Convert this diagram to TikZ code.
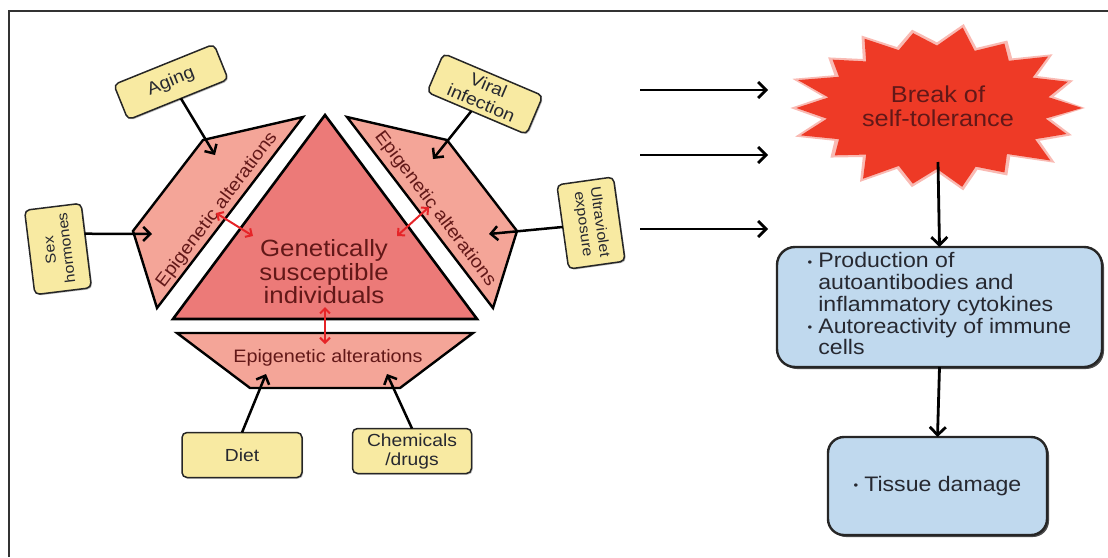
\documentclass[tikz,border=0pt]{standalone}
\usepackage{fontspec}
\setmainfont{Liberation Sans}[FakeStretch=1.1]
\usetikzlibrary{arrows.meta,calc,shadows}

\definecolor{tricol}{RGB}{236,122,120}
\definecolor{piececol}{RGB}{244,165,152}
\definecolor{notecol}{RGB}{248,234,162}
\definecolor{cellcol}{RGB}{192,217,238}
\definecolor{burstcol}{RGB}{238,58,38}
\definecolor{maroon}{RGB}{98,24,24}
\definecolor{ink}{RGB}{38,40,48}
\definecolor{linkred}{RGB}{230,36,40}

\newcommand\smalldot{\raisebox{1.5pt}{\fontsize{12}{12}\selectfont\textbullet}}

\begin{document}
\begin{tikzpicture}[x=1pt,y=-1pt,
  every node/.style={inner sep=0pt, outer sep=0pt},
  factor/.style={draw=black!85, line width=1.5pt, fill=notecol, rounded corners=5pt,
    align=center, text=ink, font=\fontsize{17.5}{19}\selectfont,
    drop shadow={shadow xshift=1.2pt, shadow yshift=-1.2pt, fill=black!25, opacity=1}},
  smallfactor/.style={factor, font=\fontsize{14.5}{16.5}\selectfont},
  piece/.style={draw=black, line width=2.4pt, fill=piececol, line join=miter},
  core/.style={draw=black, line width=2.6pt, fill=tricol, line join=miter},
  piecetext/.style={text=maroon, font=\fontsize{18}{20}\selectfont},
  cell/.style={draw=black!85, line width=2.4pt, fill=cellcol, text=ink,
    font=\fontsize{21}{21.8}\selectfont,
    drop shadow={shadow xshift=2pt, shadow yshift=-2pt, fill=black!70, opacity=1}},
  arr/.style={draw=black, line width=2.5pt, -{Straight Barb[length=7pt,width=14pt]}},
  bigarr/.style={draw=black, line width=2.8pt, -{Straight Barb[length=8pt,width=16pt]}},
  link/.style={draw=linkred, line width=2pt,
    {Straight Barb[length=5pt,width=10pt]}-{Straight Barb[length=5pt,width=10pt]}},
]
\useasboundingbox (0,0) rectangle (1108,557);

% frame lines
\draw[line width=1.8pt, black!80] (9,557) -- (9,11) -- (1108,11);

% central triangle and the three surrounding pieces
\draw[core] (325,115) -- (477,319) -- (173,319) -- cycle;
\draw[piece] (303,117) -- (203,140) -- (133,231) -- (157,308) -- cycle;
\draw[piece] (347,117) -- (447,140) -- (517,231) -- (493,308) -- cycle;
\draw[piece] (177,333) -- (473,333) -- (400,388) -- (250,388) -- cycle;

\node[text=maroon, align=center, font=\fontsize{23.5}{23.5}\selectfont] (gen) at (324,272)
  {Genetically\\susceptible\\individuals};
\node[piecetext, rotate=53] (epiL) at (217,210) {Epigenetic alterations};
\node[piecetext, rotate=-53] (epiR) at (435,209) {Epigenetic alterations};
\node[piecetext] (epiB) at (328,358) {Epigenetic alterations};

% red links between the triangle and the pieces
\coordinate (lL1) at (216,213);
\coordinate (lL2) at (253,236);
\coordinate (lR1) at (429,207);
\coordinate (lR2) at (397,236);
\coordinate (lB1) at (325,307);
\coordinate (lB2) at (325,344);
\draw[link] (lL1) -- (lL2);
\draw[link] (lR1) -- (lR2);
\draw[link] (lB1) -- (lB2);

% environmental factors
\node[factor, rotate=22, minimum width=108pt, minimum height=38pt] (aging) at (171,82) {Aging};
\node[factor, rotate=-23, minimum width=108pt, minimum height=42pt] (viral) at (485,94) {Viral\\infection};
\node[smallfactor, rotate=97, minimum width=85pt, minimum height=57pt] (sex) at (58,249) {Sex\\hormones};
\node[smallfactor, rotate=-82, minimum width=85pt, minimum height=57pt] (uv) at (591,223) {Ultraviolet\\exposure};
\node[factor, minimum width=120pt, minimum height=45pt] (diet) at (242,455) {Diet};
\node[factor, minimum width=119pt, minimum height=45pt] (chem) at (412,451) {Chemicals\\/drugs};

\coordinate (agingTip) at (215,155);
\coordinate (viralTip) at (433,159);
\coordinate (sexTip) at (152,234);
\coordinate (uvTip) at (489,234);
\coordinate (dietTip) at (266,374);
\coordinate (chemTip) at (387,374);

\draw[arr] (aging) -- (agingTip);
\draw[arr] (viral) -- (viralTip);
\draw[arr] ($(sex.south)!0.28!(sex.south east)$) -- (sexTip);
\draw[arr] (uv.south) -- (uvTip);
\draw[arr] (diet.north) -- (dietTip);
\draw[arr] (chem.north) -- (chemTip);

% starburst
\coordinate (bc) at (937,108);
\fill[burstcol!70, opacity=0.5] (bc) ++(148,0)
  \foreach \a/\r in {10/0.78,20/0.97,30/0.80,40/1.04,50/0.77,60/0.95,70/0.80,80/1.02,
    90/0.78,100/0.98,110/0.79,120/1.04,130/0.78,140/0.94,150/0.80,160/1.02,170/0.79,
    180/0.99,190/0.78,200/1.04,210/0.80,220/0.96,230/0.78,240/1.02,250/0.79,260/0.97,
    270/0.80,280/1.04,290/0.78,300/0.95,310/0.79,320/1.02,330/0.78,340/0.98,350/0.80}
  { -- ($(bc)+(\a:{148*\r} and {82*\r})$) } -- cycle;
\fill[burstcol] (bc) ++(145,0)
  \foreach \a/\r in {10/0.76,20/0.95,30/0.78,40/1.02,50/0.75,60/0.93,70/0.78,80/1.0,
    90/0.76,100/0.96,110/0.77,120/1.02,130/0.76,140/0.92,150/0.78,160/1.0,170/0.77,
    180/0.97,190/0.76,200/1.02,210/0.78,220/0.94,230/0.76,240/1.0,250/0.77,260/0.95,
    270/0.78,280/1.02,290/0.76,300/0.93,310/0.77,320/1.0,330/0.76,340/0.96,350/0.78}
  { -- ($(bc)+(\a:{145*\r} and {80*\r})$) } -- cycle;
\node[text=maroon, align=center, font=\fontsize{23}{24}\selectfont] (burst) at (938,106)
  {Break of\\self-tolerance};

% incoming arrows towards the starburst
\coordinate (in1a) at (640,90);  \coordinate (in1b) at (768,90);
\coordinate (in2a) at (640,155); \coordinate (in2b) at (768,155);
\coordinate (in3a) at (640,229); \coordinate (in3b) at (768,229);
\draw[bigarr] (in1a) -- (in1b);
\draw[bigarr] (in2a) -- (in2b);
\draw[bigarr] (in3a) -- (in3b);

% consequences
\node[cell, rounded corners=18pt, minimum width=325pt, minimum height=120pt] (prod) at (939.5,307)
  {\begin{tabular}{@{}l@{\hspace{6pt}}l@{}}
   \smalldot & Production of\\
             & autoantibodies and\\
             & inflammatory cytokines\\
   \smalldot & Autoreactivity of immune\\
             & cells
   \end{tabular}};
\node[cell, rounded corners=16pt, minimum width=219pt, minimum height=98pt] (tissue) at (937.5,486)
  {\smalldot\hspace{6pt}Tissue damage};

\coordinate (burstFoot) at (938,162);
\draw[bigarr] (burstFoot) -- (prod.north);
\draw[bigarr] (prod.south) -- (tissue.north);
\end{tikzpicture}
\end{document}
